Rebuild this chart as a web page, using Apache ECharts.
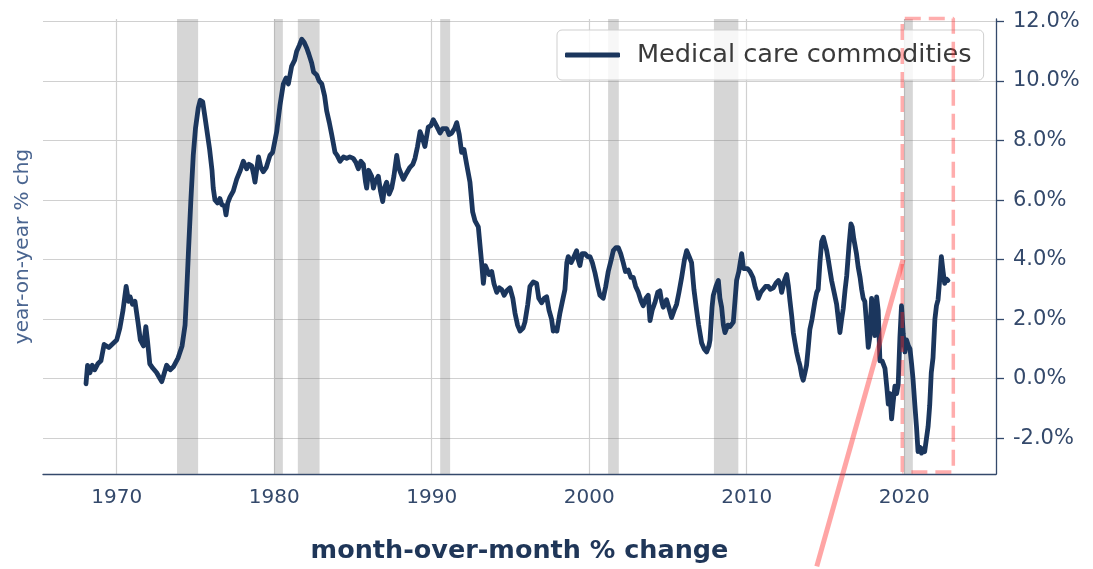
<!DOCTYPE html>
<html>
<head>
<meta charset="utf-8">
<script src="https://cdn.jsdelivr.net/npm/echarts@6/dist/echarts.min.js"></script>
<style>html,body{margin:0;padding:0;background:#fff;}#c{width:1093px;height:569px;}</style>
</head>
<body>
<div id="c"></div>
<script>
// ---- data ----
const seriesName = 'Medical care commodities';
const dates = [
1968.05,1968.15,1968.3,1968.45,1968.6,1968.8,1969.0,1969.2,1969.5,1969.8,
1970.0,1970.2,1970.4,1970.6,1970.75,1970.85,1971.0,1971.16,1971.35,1971.5,
1971.7,1971.85,1971.95,1972.1,1972.3,1972.54,1972.7,1972.86,1973.0,1973.17,
1973.4,1973.6,1973.9,1974.15,1974.34,1974.45,1974.55,1974.7,1974.86,1975.0,
1975.18,1975.3,1975.46,1975.6,1975.71,1975.9,1976.05,1976.13,1976.24,1976.4,
1976.55,1976.67,1976.85,1976.94,1977.05,1977.19,1977.4,1977.62,1977.85,1978.04,
1978.25,1978.4,1978.57,1978.7,1978.78,1979.0,1979.15,1979.31,1979.5,1979.73,
1979.9,1980.16,1980.37,1980.58,1980.75,1980.9,1981.11,1981.3,1981.43,1981.6,
1981.75,1981.9,1982.07,1982.2,1982.38,1982.5,1982.7,1982.85,1983.02,1983.2,
1983.33,1983.5,1983.65,1983.86,1984.0,1984.18,1984.4,1984.6,1984.8,1985.02,
1985.2,1985.34,1985.5,1985.66,1985.8,1985.87,1986.0,1986.19,1986.3,1986.4,
1986.61,1986.75,1986.89,1987.0,1987.14,1987.3,1987.46,1987.6,1987.78,1987.9,
1988.0,1988.2,1988.4,1988.62,1988.8,1988.94,1989.1,1989.26,1989.4,1989.57,
1989.78,1989.95,1990.1,1990.3,1990.53,1990.7,1990.95,1991.1,1991.27,1991.45,
1991.59,1991.75,1991.9,1992.05,1992.22,1992.43,1992.6,1992.75,1992.96,1993.1,
1993.17,1993.28,1993.4,1993.49,1993.65,1993.81,1993.95,1994.13,1994.3,1994.44,
1994.6,1994.76,1994.97,1995.15,1995.29,1995.45,1995.61,1995.8,1995.92,1996.1,
1996.24,1996.45,1996.66,1996.8,1996.98,1997.15,1997.3,1997.45,1997.61,1997.72,
1997.82,1997.95,1998.14,1998.3,1998.46,1998.58,1998.67,1998.85,1998.99,1999.2,
1999.3,1999.41,1999.55,1999.73,1999.9,2000.05,2000.2,2000.37,2000.55,2000.68,
2000.89,2001.05,2001.21,2001.4,2001.53,2001.7,2001.85,2002.0,2002.16,2002.3,
2002.48,2002.65,2002.8,2002.95,2003.12,2003.3,2003.43,2003.6,2003.75,2003.86,
2004.0,2004.17,2004.35,2004.49,2004.6,2004.7,2004.91,2005.05,2005.23,2005.4,
2005.55,2005.7,2005.87,2006.05,2006.19,2006.35,2006.5,2006.65,2006.82,2006.95,
2007.14,2007.3,2007.46,2007.6,2007.67,2007.8,2007.88,2008.05,2008.2,2008.3,
2008.41,2008.52,2008.62,2008.8,2008.94,2009.15,2009.3,2009.36,2009.5,2009.68,
2009.8,2009.89,2010.05,2010.21,2010.4,2010.53,2010.65,2010.74,2010.9,2011.05,
2011.2,2011.37,2011.5,2011.69,2011.85,2012.01,2012.12,2012.22,2012.4,2012.54,
2012.65,2012.75,2012.86,2012.96,2013.07,2013.17,2013.3,2013.38,2013.5,2013.59,
2013.7,2013.8,2013.9,2014.01,2014.15,2014.33,2014.45,2014.54,2014.65,2014.76,
2014.87,2014.97,2015.08,2015.18,2015.3,2015.39,2015.55,2015.71,2015.82,2015.92,
2016.03,2016.13,2016.25,2016.35,2016.5,2016.62,2016.7,2016.8,2016.87,2016.97,
2017.08,2017.2,2017.3,2017.4,2017.5,2017.62,2017.72,2017.82,2017.93,2018.05,
2018.14,2018.25,2018.35,2018.46,2018.6,2018.78,2018.9,2018.99,2019.1,2019.2,
2019.3,2019.41,2019.52,2019.62,2019.73,2019.83,2019.94,2020.05,2020.15,2020.27,
2020.37,2020.47,2020.56,2020.68,2020.78,2020.88,2021.0,2021.1,2021.2,2021.3,
2021.41,2021.52,2021.62,2021.72,2021.83,2021.95,2022.05,2022.15,2022.25,2022.36,
2022.47,2022.57,2022.68,2022.78
];
const yoy = [
-0.17,0.45,0.2,0.45,0.3,0.5,0.6,1.15,1.05,1.2,
1.3,1.7,2.3,3.1,2.6,2.75,2.5,2.6,1.9,1.3,
1.1,1.75,1.3,0.5,0.35,0.2,0.05,-0.1,0.15,0.45,
0.3,0.4,0.7,1.1,1.8,3.0,4.2,5.9,7.5,8.4,
9.1,9.35,9.3,8.8,8.4,7.7,7.0,6.4,6.0,5.9,
6.05,5.85,5.8,5.5,5.9,6.1,6.3,6.7,7.0,7.3,
7.05,7.2,7.15,6.85,6.6,7.45,7.1,6.95,7.1,7.5,
7.6,8.3,9.2,9.9,10.1,9.9,10.5,10.7,11.0,11.2,
11.4,11.3,11.1,10.9,10.6,10.3,10.2,10.0,9.9,9.5,
9.0,8.6,8.2,7.6,7.5,7.3,7.45,7.4,7.45,7.4,
7.25,7.05,7.3,7.2,6.6,6.4,7.0,6.8,6.4,6.6,
6.8,6.3,5.95,6.4,6.6,6.2,6.4,6.8,7.5,7.1,
6.95,6.7,6.9,7.1,7.2,7.4,7.8,8.3,8.1,7.8,
8.45,8.5,8.7,8.5,8.25,8.4,8.4,8.2,8.25,8.4,
8.6,8.2,7.6,7.7,7.2,6.6,5.6,5.3,5.1,4.3,
3.9,3.2,3.8,3.8,3.5,3.6,3.2,2.9,3.05,3.0,
2.8,2.95,3.05,2.7,2.2,1.8,1.6,1.7,1.9,2.5,
3.1,3.25,3.2,2.7,2.55,2.7,2.75,2.3,2.0,1.6,
1.7,1.6,2.2,2.6,3.0,3.9,4.1,3.9,4.05,4.3,
4.0,3.8,4.2,4.2,4.1,4.1,3.9,3.55,3.1,2.8,
2.7,3.1,3.6,4.0,4.3,4.4,4.4,4.2,3.9,3.6,
3.65,3.4,3.4,3.1,2.9,2.6,2.45,2.7,2.8,1.95,
2.3,2.55,2.9,2.95,2.6,2.4,2.65,2.4,2.05,2.3,
2.5,2.9,3.4,4.0,4.3,4.1,3.9,3.0,2.3,1.8,
1.2,1.0,0.9,1.1,1.3,2.4,2.8,3.1,3.3,2.7,
2.4,1.8,1.55,1.8,1.75,1.9,2.9,3.3,3.6,4.2,
3.7,3.65,3.7,3.6,3.4,3.1,2.9,2.7,2.9,3.0,
3.1,3.1,3.0,3.05,3.2,3.3,3.2,2.9,3.3,3.5,
3.1,2.6,2.1,1.55,1.2,0.9,0.6,0.45,0.1,-0.05,
0.2,0.45,1.0,1.65,2.0,2.6,2.9,3.0,3.9,4.6,
4.75,4.8,4.3,4.0,3.6,3.3,2.9,2.5,2.0,1.55,
2.0,2.35,3.0,3.45,4.5,5.2,5.1,4.7,4.5,4.2,
3.75,3.4,3.0,2.7,2.6,1.8,1.05,1.4,2.7,2.0,
1.45,2.75,2.3,0.6,0.6,0.35,-0.3,-0.85,-0.5,-1.35,
-0.8,-0.25,-0.5,-0.2,1.4,2.45,1.5,0.9,1.3,1.1,
1.0,0.5,0.0,-0.9,-1.6,-2.45,-2.3,-2.5,-2.35,-2.45,
-2.4,-1.6,-0.9,0.2,0.7,2.0,2.45,2.65,3.3,4.1,
3.6,3.2,3.35,3.3
];
// recession periods (start, end) in decimal years
const recessionStart = [1973.83, 1980.0, 1981.5, 1990.54, 2001.2, 2007.92, 2020.0];
const recessionEnd   = [1975.17, 1980.55, 1982.88, 1991.17, 2001.88, 2009.47, 2020.55];
// tick labels
const xTicks = [1970, 1980, 1990, 2000, 2010, 2020];
const yTicks = [-2, 0, 2, 4, 6, 8, 10, 12];
// annotation: dashed highlight box (x0, x1, y0, y1) and pointer line
const boxX = [2019.88, 2023.12];
const boxY = [-3.13, 12.1];
const pointerFrom = [2014.45, -6.3];
const pointerTo = [2019.93, 4.0];

const X_MIN = 1965.32, X_MAX = 2025.83, Y_MIN = -3.2, Y_MAX = 12.08;

const lineData = dates.map((d, i) => [d, yoy[i]]);
const recessionAreas = recessionStart.map((s, i) => [{ xAxis: s }, { xAxis: recessionEnd[i] }]);
const boxData = [[boxX[0], boxY[0]], [boxX[0], boxY[1]], [boxX[1], boxY[1]], [boxX[1], boxY[0]], [boxX[0], boxY[0]]];

const tickColor = '#34496b';
const chart = echarts.init(document.getElementById('c'), null, { renderer: 'canvas' });
chart.setOption({
  animation: false,
  backgroundColor: '#ffffff',
  textStyle: { fontFamily: 'DejaVu Sans' },
  grid: { left: 43, right: 97, top: 19, bottom: 91.5, containLabel: false },
  legend: {
    data: [{ name: seriesName, icon: 'roundRect' }],
    left: 557, top: 30,
    itemWidth: 55, itemHeight: 5,
    padding: [12, 12, 12, 8],
    borderColor: '#cfcfcf', borderWidth: 1, borderRadius: 5,
    backgroundColor: 'rgba(255,255,255,0.8)',
    textStyle: { fontSize: 25.6, color: '#3a3a3a', padding: [0, 0, 0, 12], lineHeight: 24, fontFamily: 'DejaVu Sans' }
  },
  xAxis: {
    type: 'value', min: X_MIN, max: X_MAX,
    name: 'month-over-month % change', nameLocation: 'middle', nameGap: 64,
    nameTextStyle: { fontSize: 25.5, fontWeight: 'bold', color: '#1f3658', fontFamily: 'DejaVu Sans' },
    axisLine: { show: true, onZero: false, lineStyle: { color: tickColor, width: 1.3 } },
    axisTick: { show: false, customValues: xTicks },
    axisLabel: { customValues: xTicks, fontSize: 20, color: tickColor, margin: 14, formatter: v => String(v) },
    splitLine: { show: true, lineStyle: { color: '#d0d0d0', width: 1.2 } }
  },
  yAxis: [{
    type: 'value', min: Y_MIN, max: Y_MAX, position: 'right',
    axisLine: { show: true, onZero: false, lineStyle: { color: tickColor, width: 1.3 } },
    axisTick: { show: true, inside: false, length: 8, customValues: yTicks, lineStyle: { color: tickColor, width: 1.3 } },
    axisLabel: { customValues: yTicks, fontSize: 21, color: tickColor, margin: 17, formatter: v => v.toFixed(1) + '%' },
    splitLine: { show: true, lineStyle: { color: '#d0d0d0', width: 1.2 } }
  }, {
    type: 'value', min: Y_MIN, max: Y_MAX, position: 'left',
    name: 'year-on-year % chg', nameLocation: 'middle', nameGap: 10,
    nameTextStyle: { fontSize: 20, color: '#4a6590', fontFamily: 'DejaVu Sans' },
    axisLine: { show: false }, axisTick: { show: false }, axisLabel: { show: false }, splitLine: { show: false }
  }],
  series: [{
    name: seriesName, type: 'line', data: lineData, showSymbol: false, symbol: 'none',
    lineStyle: { color: '#1b365d', width: 4.8, join: 'round', cap: 'round' },
    itemStyle: { color: '#1b365d' },
    z: 3,
    markArea: { silent: true, itemStyle: { color: 'rgba(128,128,128,0.32)' }, data: recessionAreas }
  }, {
    name: 'box', type: 'line', data: boxData, showSymbol: false, symbol: 'none', clip: false,
    lineStyle: { color: 'rgba(255,40,40,0.38)', width: 3.5, type: [16, 8] }, z: 5, silent: true
  }, {
    name: 'pointer', type: 'line', data: [pointerFrom, pointerTo], showSymbol: false, symbol: 'none', clip: false,
    lineStyle: { color: 'rgba(255,40,40,0.42)', width: 5 }, z: 5, silent: true
  }]
});
</script>
</body>
</html>
